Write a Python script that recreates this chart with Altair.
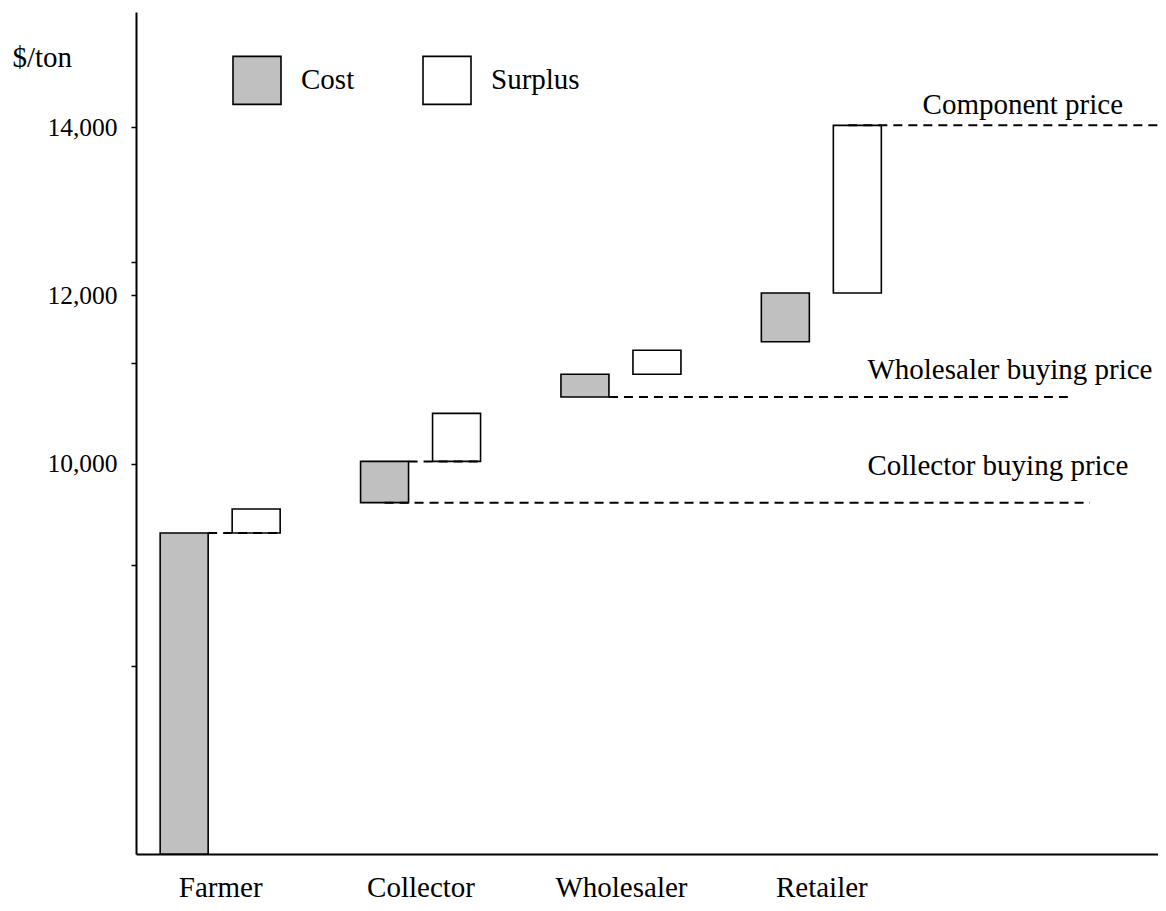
import json
import altair as alt
import pandas as pd

# ---------------- data ----------------
stages = ["Farmer", "Collector", "Wholesaler", "Retailer"]
cost_low = [0, 9540, 10795, 11450]          # buying price (farmer: from zero)
cost_high = [9180, 10030, 11065, 12030]     # buying price + cost
surplus_high = [9465, 10600, 11350, 14020]  # selling price

legend_labels = ["Cost", "Surplus"]

y_tick_values = [7600, 8800, 10000, 11200, 12000, 12400, 14000]
y_labelled = [10000, 12000, 14000]

connector_stages = ["Farmer", "Collector"]

price_labels = ["Collector buying price", "Wholesaler buying price", "Component price"]
price_values = [9540, 10795, 14020]
price_from_stage = ["Collector", "Wholesaler", "Retailer"]
price_line_end = [4.34, 4.23, 4.68]
price_label_x = [3.23, 3.23, 3.505]
price_label_y = [9870, 11010, 14150]

# ---------------- styling ----------------
FONT = "Liberation Serif"
GRAY = "#c0c0c0"
DASH = [9, 6]
TXT = 29
price_start_offset = [-36, -12, 27]   # px from the stage centre

# ---------------- tables ----------------
rows = []
for i, s in enumerate(stages):
    rows.append({"pos": i, "stage": s, "type": "Cost", "low": cost_low[i], "high": cost_high[i]})
    rows.append({"pos": i, "stage": s, "type": "Surplus", "low": cost_high[i], "high": surplus_high[i]})
bars_df = pd.DataFrame(rows)

conn_df = pd.DataFrame({
    "pos": [stages.index(s) for s in connector_stages],
    "level": [cost_high[stages.index(s)] for s in connector_stages],
})

xscale = alt.Scale(domain=[-0.42, 4.68], nice=False, zero=False)
yscale = alt.Scale(domain=[5368, 15366], nice=False, zero=False, clamp=True)

x_label_expr = json.dumps(stages) + "[datum.value]"
xaxis = alt.Axis(
    values=list(range(len(stages))), labelExpr=x_label_expr, title=None,
    ticks=False, tickSize=0, grid=False, labelPadding=42, labelBaseline="alphabetic",
    labelFont=FONT, labelFontSize=TXT, labelColor="black", labelOverlap=False,
    labelFlush=False, domainColor="black", domainWidth=2,
)
y_expr = "indexof(" + json.dumps(y_labelled) + ", datum.value) >= 0 ? format(datum.value, ',') : ''"
yaxis = alt.Axis(
    values=y_tick_values, labelExpr=y_expr, grid=False, tickSize=5, tickColor="black",
    tickWidth=1.5, labelPadding=14, labelFont=FONT, labelFontSize=25.5, labelColor="black",
    labelOverlap=False, domainColor="black", domainWidth=2,
    title="$/ton", titleAngle=0, titleX=-124, titleY=54, titleAlign="left",
    titleBaseline="alphabetic", titleFont=FONT, titleFontSize=TXT, titleFontWeight="normal",
    titleColor="black",
)

fill = alt.Fill(
    "type:N",
    scale=alt.Scale(domain=legend_labels, range=[GRAY, "#ffffff"]),
    legend=alt.Legend(
        title=None, orient="none", legendX=96, legendY=43, direction="horizontal",
        symbolType="square", symbolSize=2304, symbolStrokeColor="black",
        symbolStrokeWidth=1.6, symbolOpacity=1, labelFont=FONT, labelFontSize=TXT,
        labelColor="black", labelOffset=19, columnPadding=64, padding=0,
    ),
)

base = alt.Chart(bars_df)
cost_bars = base.transform_filter(alt.datum.type == "Cost").mark_rect(
    stroke="black", strokeWidth=1.6, xOffset=-60, x2Offset=-12
).encode(
    x=alt.X("pos:Q", scale=xscale, axis=xaxis),
    x2="pos",
    y=alt.Y("low:Q", scale=yscale, axis=yaxis),
    y2="high",
    fill=fill,
)
surplus_bars = base.transform_filter(alt.datum.type == "Surplus").mark_rect(
    stroke="black", strokeWidth=1.6, xOffset=12, x2Offset=60
).encode(
    x=alt.X("pos:Q", scale=xscale, axis=xaxis),
    x2="pos",
    y=alt.Y("low:Q", scale=yscale, axis=yaxis),
    y2="high",
    fill=fill,
)

connectors = alt.Chart(conn_df).mark_rule(
    stroke="black", strokeWidth=2, strokeDash=DASH, xOffset=-12, x2Offset=60
).encode(
    x=alt.X("pos:Q", scale=xscale, axis=xaxis),
    x2="pos",
    y=alt.Y("level:Q", scale=yscale, axis=yaxis),
)

price_layers = []
for i, lab in enumerate(price_labels):
    df = pd.DataFrame({
        "pos": [stages.index(price_from_stage[i])],
        "end": [price_line_end[i]],
        "level": [price_values[i]],
    })
    price_layers.append(
        alt.Chart(df).mark_rule(
            stroke="black", strokeWidth=2, strokeDash=DASH, xOffset=price_start_offset[i]
        ).encode(
            x=alt.X("pos:Q", scale=xscale, axis=xaxis),
            x2="end",
            y=alt.Y("level:Q", scale=yscale, axis=yaxis),
        )
    )

text_df = pd.DataFrame({"pos": price_label_x, "level": price_label_y, "label": price_labels})
texts = alt.Chart(text_df).mark_text(
    align="left", baseline="alphabetic", font=FONT, fontSize=TXT, color="black"
).encode(
    x=alt.X("pos:Q", scale=xscale, axis=xaxis),
    y=alt.Y("level:Q", scale=yscale, axis=yaxis),
    text="label:N",
)

chart = alt.layer(cost_bars, surplus_bars, connectors, *price_layers, texts).properties(
    width=1022, height=842,
    autosize=alt.AutoSizeParams(type="none"),
    padding={"left": 128, "top": 4, "right": 0, "bottom": 49},
    background="white",
).configure(font=FONT).configure_axis(
    labelFont=FONT, titleFont=FONT
).configure_legend(labelFont=FONT).configure_view(stroke=None)

chart.save("out.html", embed_options={"renderer": "svg", "actions": False})
